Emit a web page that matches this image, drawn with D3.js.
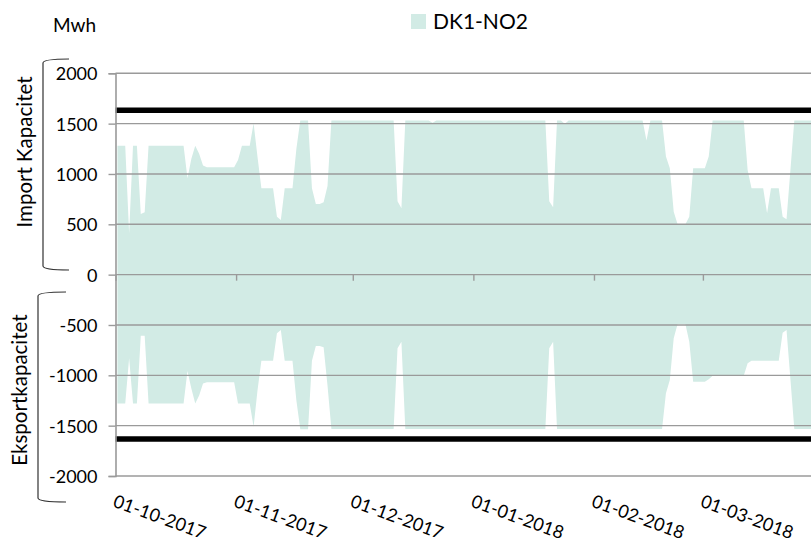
<!DOCTYPE html>
<html>
<head>
<meta charset="utf-8">
<script src="https://cdn.jsdelivr.net/npm/d3@7/dist/d3.min.js"></script>
<style>
  body { margin: 0; background: #fff; }
  svg { display: block; font-family: Lato, "Open Sans", sans-serif; }
</style>
</head>
<body>
<svg id="chart" width="811" height="546"></svg>
<script>
// Daily transmission capacity DK1 -> NO2 (MWh), starting 1 Oct 2017
const startDate = "2017-10-01";
const seriesName = "DK1-NO2";
const unitLabel = "Mwh";
const importTitle = "Import Kapacitet";
const exportTitle = "Eksportkapacitet";

const importCapacity = [
  1280, 1280, 1280, 410, 1280, 1280, 603, 620, 1280, 1280,
  1280, 1280, 1280, 1280, 1280, 1280, 1280, 1280, 958, 1150,
  1280, 1200, 1085, 1067, 1067, 1067, 1067, 1067, 1067, 1067,
  1067, 1140, 1280, 1280, 1280, 1504, 1170, 858, 858, 858,
  858, 576, 543, 858, 858, 858, 1250, 1532, 1532, 1532,
  858, 702, 702, 720, 880, 1532, 1532, 1532, 1532, 1532,
  1532, 1532, 1532, 1532, 1532, 1532, 1532, 1532, 1532, 1532,
  1532, 1532, 730, 660, 1532, 1532, 1532, 1532, 1532, 1532,
  1532, 1510, 1532, 1532, 1532, 1532, 1532, 1532, 1532, 1532,
  1532, 1532, 1532, 1532, 1532, 1532, 1532, 1532, 1532, 1532,
  1532, 1532, 1532, 1532, 1532, 1532, 1532, 1532, 1532, 1532,
  1532, 730, 670, 1532, 1532, 1500, 1532, 1532, 1532, 1532,
  1532, 1532, 1532, 1532, 1532, 1532, 1532, 1532, 1532, 1532,
  1532, 1532, 1532, 1532, 1532, 1532, 1332, 1532, 1532, 1532,
  1532, 1173, 1057, 626, 501, 501, 501, 576, 1057, 1057,
  1057, 1057, 1173, 1532, 1532, 1532, 1532, 1532, 1532, 1532,
  1532, 1532, 1040, 858, 858, 858, 858, 610, 858, 858,
  858, 576, 550, 1040, 1532, 1532, 1532, 1532, 1532, 1532,
  1532, 1532
];

const exportCapacity = [
  -1280, -1280, -1280, -831, -1280, -1280, -606, -606, -1280, -1280,
  -1280, -1280, -1280, -1280, -1280, -1280, -1280, -1280, -957, -1130,
  -1280, -1200, -1080, -1069, -1069, -1069, -1069, -1069, -1069, -1069,
  -1069, -1280, -1280, -1280, -1280, -1510, -1150, -854, -854, -854,
  -854, -583, -550, -854, -854, -854, -1250, -1536, -1536, -1536,
  -854, -708, -708, -720, -1100, -1532, -1532, -1532, -1532, -1532,
  -1532, -1532, -1532, -1532, -1532, -1532, -1532, -1532, -1532, -1532,
  -1532, -1532, -731, -666, -1532, -1532, -1532, -1532, -1532, -1532,
  -1532, -1532, -1532, -1532, -1532, -1532, -1532, -1532, -1532, -1532,
  -1532, -1532, -1532, -1532, -1532, -1532, -1532, -1532, -1532, -1532,
  -1532, -1532, -1532, -1532, -1532, -1532, -1532, -1532, -1532, -1532,
  -1532, -731, -666, -1532, -1532, -1532, -1532, -1532, -1532, -1532,
  -1532, -1532, -1532, -1532, -1532, -1532, -1532, -1532, -1532, -1532,
  -1532, -1532, -1532, -1532, -1532, -1532, -1532, -1532, -1532, -1532,
  -1532, -1178, -1046, -632, -490, -490, -490, -666, -1063, -1063,
  -1063, -1063, -1040, -1005, -1005, -1005, -1005, -1005, -1005, -1005,
  -1005, -1005, -880, -854, -854, -854, -854, -854, -854, -854,
  -854, -576, -550, -1040, -1532, -1532, -1532, -1532, -1532, -1532,
  -1532, -1532
];

// Maximum cable capacity, drawn as heavy black reference lines
const capacityLimits = [1632, -1632];

const yTicks = [2000, 1500, 1000, 500, 0, -500, -1000, -1500, -2000];
const monthTicks = ["2017-10-01", "2017-11-01", "2017-12-01", "2018-01-01", "2018-02-01", "2018-03-01"];

// ---- layout ----
const svg = d3.select("#chart");
const plot = { left: 115.5, top: 73.3, bottom: 476, daysShown: 182, pxPerDay: 3.89 };

const parse = d3.utcParse("%Y-%m-%d");
const fmt = d3.utcFormat("%d-%m-%Y");
const t0 = parse(startDate);
const tEnd = d3.utcDay.offset(t0, plot.daysShown);

const x = d3.scaleUtc()
  .domain([t0, tEnd])
  .range([plot.left, plot.left + plot.daysShown * plot.pxPerDay]);
const y = d3.scaleLinear().domain([-2000, 2000]).range([plot.bottom, plot.top]);

// each daily value sits in the middle of its day
const dayCenter = i => x(d3.utcHour.offset(d3.utcDay.offset(t0, i), 12));

const fillColor = "#d2ebe5";
const gridColor = "#9a9a9a";

// areas
const area = d3.area()
  .x((d, i) => dayCenter(i))
  .y0(y(0))
  .y1(d => y(d));

svg.append("path").datum(importCapacity)
  .attr("d", area).attr("fill", fillColor);
svg.append("path").datum(exportCapacity)
  .attr("d", area).attr("fill", fillColor);

// gridlines
svg.append("g")
  .selectAll("line")
  .data(yTicks.filter(v => v !== 0))
  .join("line")
  .attr("x1", plot.left).attr("x2", x(tEnd))
  .attr("y1", d => y(d)).attr("y2", d => y(d))
  .attr("stroke", gridColor).attr("stroke-width", 1.4);

// capacity limit lines
svg.append("g")
  .selectAll("line")
  .data(capacityLimits)
  .join("line")
  .attr("x1", x(t0)).attr("x2", x(tEnd))
  .attr("y1", d => y(d)).attr("y2", d => y(d))
  .attr("stroke", "#000").attr("stroke-width", 5.5);

// y axis (plain hyphen for negative numbers)
const yAxis = d3.axisLeft(y).tickValues(yTicks).tickSize(7).tickFormat(d => String(d));
const gy = svg.append("g").attr("transform", `translate(${plot.left},0)`).call(yAxis);
gy.select(".domain").attr("stroke", gridColor).attr("stroke-width", 1.6);
gy.selectAll(".tick line").attr("stroke", gridColor).attr("stroke-width", 1.4);
gy.selectAll(".tick text")
  .attr("x", -18)
  .attr("dy", "0.36em")
  .attr("fill", "#000")
  .style("font-size", "18px")
  .style("font-family", "Lato, sans-serif");

// x axis along zero line
const xAxis = d3.axisBottom(x)
  .tickValues(monthTicks.map(parse))
  .tickSize(6)
  .tickFormat("");
const gx = svg.append("g").attr("transform", `translate(0,${y(0)})`).call(xAxis);
gx.select(".domain").attr("stroke", gridColor).attr("stroke-width", 1.4).attr("d", `M${plot.left},0H${x(tEnd)}`);
gx.selectAll(".tick line").attr("stroke", gridColor).attr("stroke-width", 1.4);

// rotated date labels below the plot
svg.append("g")
  .selectAll("text")
  .data(monthTicks.map(parse))
  .join("text")
  .attr("transform", d => `translate(${x(d) + 1},${plot.bottom + 18}) rotate(20)`)
  .attr("dy", "0.72em")
  .attr("fill", "#000")
  .style("font-size", "18px")
  .text(d => fmt(d));

// unit label
svg.append("text")
  .attr("x", 53).attr("y", 32)
  .style("font-size", "19px")
  .attr("fill", "#000")
  .text(unitLabel);

// legend
const legend = svg.append("g");
legend.append("rect")
  .attr("x", 411).attr("y", 14).attr("width", 15).attr("height", 15)
  .attr("fill", fillColor);
legend.append("text")
  .attr("x", 433).attr("y", 28.5)
  .style("font-size", "21px")
  .attr("fill", "#000")
  .text(seriesName);

// axis titles with brackets
function bracket(xLine, yTop, yBottom, reach) {
  const p = d3.path();
  p.moveTo(xLine + reach, yTop);
  p.quadraticCurveTo(xLine, yTop, xLine, yTop + 4);
  p.lineTo(xLine, yBottom - 4);
  p.quadraticCurveTo(xLine, yBottom, xLine + reach, yBottom);
  return p.toString();
}

svg.append("path")
  .attr("d", bracket(43, 59, 270, 26))
  .attr("fill", "none").attr("stroke", "#333").attr("stroke-width", 1.2);
svg.append("path")
  .attr("d", bracket(38, 292, 502, 28))
  .attr("fill", "none").attr("stroke", "#333").attr("stroke-width", 1.2);

svg.append("text")
  .attr("transform", `translate(32,152) rotate(-90)`)
  .attr("text-anchor", "middle")
  .style("font-size", "20.5px")
  .attr("fill", "#000")
  .text(importTitle);
svg.append("text")
  .attr("transform", `translate(27,390) rotate(-90)`)
  .attr("text-anchor", "middle")
  .style("font-size", "20.5px")
  .attr("fill", "#000")
  .text(exportTitle);
</script>
</body>
</html>
